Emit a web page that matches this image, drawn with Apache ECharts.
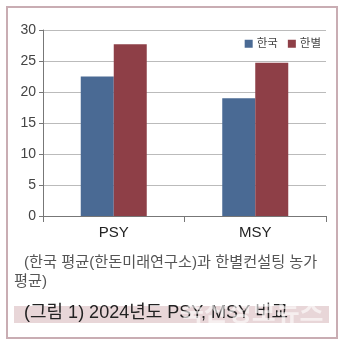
<!DOCTYPE html>
<html><head><meta charset="utf-8">
<script src="https://cdn.jsdelivr.net/npm/echarts@6/dist/echarts.min.js"></script>
<style>html,body{margin:0;padding:0;background:#fff}#c{width:345px;height:346px}</style>
</head><body><div id="c"></div>
<script>
const categories = ['PSY', 'MSY'];
const seriesNames = ['한국', '한별'];
const koreaValues = [22.5, 19.0];
const hanbyulValues = [27.7, 24.7];
const yTicks = [0, 5, 10, 15, 20, 25, 30];
const captionLine1 = '(한국 평균(한돈미래연구소)과 한별컨설팅 농가';
const captionLine2 = '평균)';
const figureTitle = '(그림 1) 2024년도 PSY, MSY 비교';
const watermark = '축산정보뉴스';

const font = '"Liberation Sans", "Noto Sans CJK KR", sans-serif';
const chart = echarts.init(document.getElementById('c'), null, {renderer: 'canvas'});
chart.setOption({
  animation: false,
  grid: {left: 43, right: 19, top: 30, bottom: 130, containLabel: false},
  legend: {
    data: seriesNames, right: 19, top: 33, itemWidth: 8, itemHeight: 8, itemGap: 10,
    icon: 'rect',
    textStyle: {fontFamily: font, fontSize: 11.5, color: '#444', padding: [0,0,0,-1]}
  },
  xAxis: {
    type: 'category', data: categories,
    axisLine: {lineStyle: {color: '#777', width: 1}},
    axisTick: {show: true, length: 6, lineStyle: {color: '#777'}, alignWithLabel: false},
    axisLabel: {fontFamily: font, fontSize: 15, color: '#222', margin: 9}
  },
  yAxis: {
    type: 'value', min: yTicks[0], max: yTicks[yTicks.length-1], interval: 5,
    axisLine: {show: true, lineStyle: {color: '#777'}},
    axisTick: {show: true, length: 4, lineStyle: {color: '#777'}},
    axisLabel: {fontFamily: font, fontSize: 14, color: '#444', margin: 7},
    splitLine: {lineStyle: {color: '#bbb', width: 1}}
  },
  series: [
    {name: seriesNames[0], type: 'bar', data: koreaValues, barWidth: 33, barGap: '0%', itemStyle: {color: '#4a6a94'}},
    {name: seriesNames[1], type: 'bar', data: hanbyulValues, barWidth: 33, barGap: '0%', itemStyle: {color: '#8e3f47'}}
  ],
  graphic: [
    {type: 'rect', shape: {x: 7, y: 7, width: 330, height: 331}, style: {fill: 'none', stroke: '#c9adb3', lineWidth: 2}, z: 100},
    {type: 'text', left: 24, top: 255, style: {text: captionLine1, font: '15.2px ' + font, fill: '#555'}},
    {type: 'text', left: 14, top: 274, style: {text: captionLine2, font: '15.2px ' + font, fill: '#555'}},
    {type: 'rect', shape: {x: 14, y: 306, width: 315, height: 17}, style: {fill: '#e8d6d8'}},
    {type: 'text', left: 24, top: 304, style: {text: figureTitle, font: '18px ' + font, fill: '#222'}},
    {type: 'text', left: 180, top: 298, z: 50, style: {text: watermark, font: 'bold 26px "Noto Sans CJK KR", sans-serif', fill: 'rgba(255,255,255,0.6)'}}
  ]
});
</script></body></html>
